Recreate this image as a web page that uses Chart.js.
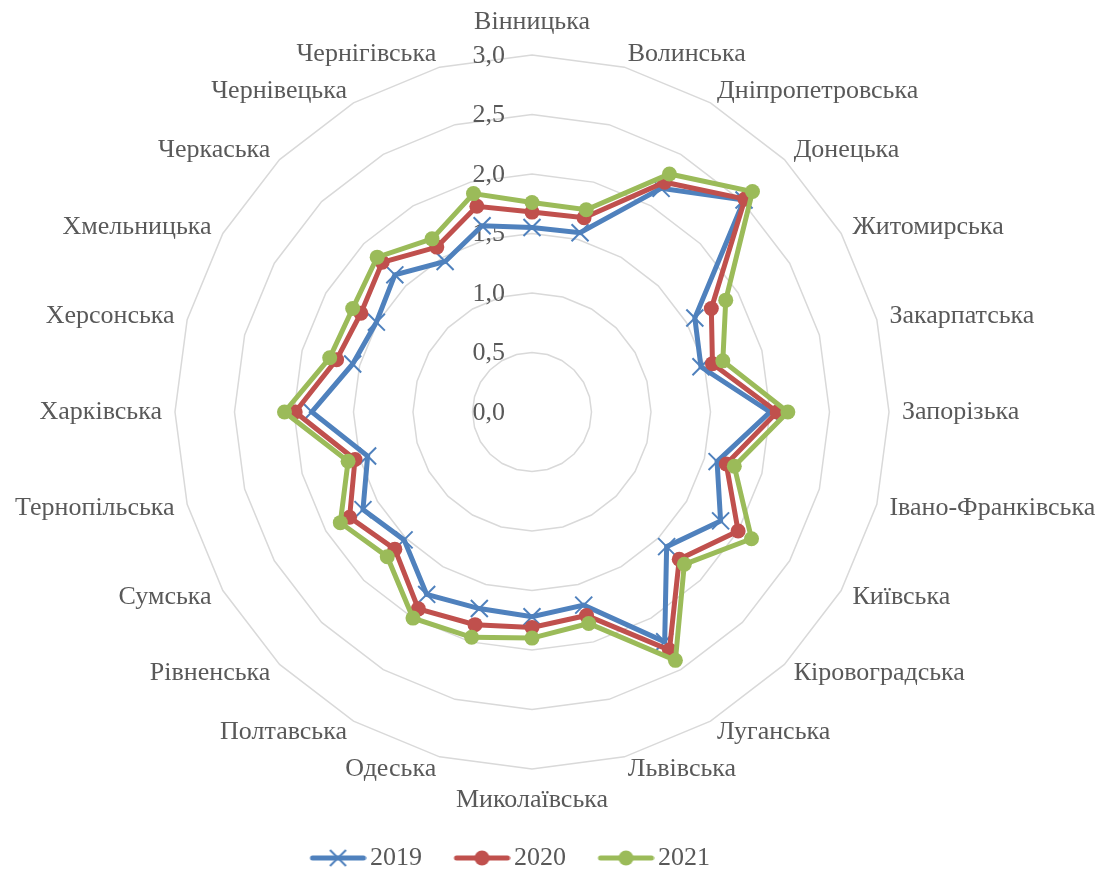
<!DOCTYPE html>
<html>
<head>
<meta charset="utf-8">
<script src="https://cdn.jsdelivr.net/npm/chart.js@4"></script>
<style>
  html, body { margin: 0; padding: 0; background: #fff; }
  #wrap { width: 1109px; height: 870px; }
</style>
</head>
<body>
<div id="wrap"><canvas id="graficoRadar"></canvas></div>
<script>
const oblasti = ['Вінницька', 'Волинська', 'Дніпропетровська', 'Донецька', 'Житомирська', 'Закарпатська',
  'Запорізька', 'Івано-Франківська', 'Київська', 'Кіровоградська', 'Луганська', 'Львівська',
  'Миколаївська', 'Одеська', 'Полтавська', 'Рівненська', 'Сумська', 'Тернопільська',
  'Харківська', 'Херсонська', 'Хмельницька', 'Черкаська', 'Чернівецька', 'Чернігівська'];

const dani2019 = [1.55, 1.56, 2.17, 2.52, 1.58, 1.47, 2.00, 1.61, 1.83, 1.60, 2.23, 1.68,
  1.72, 1.71, 1.77, 1.52, 1.64, 1.43, 1.85, 1.56, 1.51, 1.63, 1.46, 1.62];
const dani2020 = [1.68, 1.69, 2.23, 2.53, 1.74, 1.57, 2.06, 1.69, 2.00, 1.75, 2.31, 1.77,
  1.81, 1.85, 1.91, 1.63, 1.77, 1.54, 1.99, 1.70, 1.66, 1.78, 1.60, 1.79];
const dani2021 = [1.76, 1.76, 2.31, 2.62, 1.88, 1.66, 2.15, 1.76, 2.13, 1.81, 2.41, 1.84,
  1.90, 1.96, 2.00, 1.72, 1.86, 1.60, 2.08, 1.76, 1.74, 1.84, 1.68, 1.90];

const roky = ['2019', '2020', '2021'];
const kolory = ['#4f81bd', '#c0504d', '#9bbb59'];
const shkala = { min: 0, max: 3, krok: 0.5 };

const shrift = "'Liberation Serif', 'Times New Roman', serif";
const siryi = '#595959';
const rozmir = 26;

function formatChisla(v) {
  return v.toFixed(1).replace('.', ',');
}

// legend icon: line with marker
function ikonka(kolir, khrestyk) {
  const c = document.createElement('canvas');
  c.width = 68; c.height = 22;
  const g = c.getContext('2d');
  g.strokeStyle = kolir;
  g.lineWidth = 5;
  g.lineCap = 'round';
  g.beginPath(); g.moveTo(14, 11); g.lineTo(65, 11); g.stroke();
  const mx = 39.5;
  if (khrestyk) {
    g.lineWidth = 2;
    g.lineCap = 'butt';
    g.beginPath();
    g.moveTo(mx - 8, 3); g.lineTo(mx + 8, 19);
    g.moveTo(mx + 8, 3); g.lineTo(mx - 8, 19);
    g.stroke();
  } else {
    g.fillStyle = kolir;
    g.beginPath(); g.arc(mx, 11, 7.5, 0, Math.PI * 2); g.fill();
  }
  return c;
}

// tick labels left of the axis and category names around the web
const pidpysy = {
  id: 'pidpysy',
  afterLayout(chart) {
    chart.legend.left -= 23;
    chart.legend.right -= 23;
  },
  beforeDatasetsDraw(chart) {
    const r = chart.scales.r;
    const ctx = chart.ctx;
    ctx.save();
    ctx.font = rozmir + 'px ' + shrift;
    ctx.fillStyle = siryi;
    ctx.textBaseline = 'middle';

    ctx.textAlign = 'right';
    r.ticks.forEach(t => {
      const d = r.getDistanceFromCenterForValue(t.value);
      ctx.fillText(formatChisla(t.value), r.xCenter - 27, r.yCenter - d + 1);
    });

    oblasti.forEach((nazva, i) => {
      const kut = Math.round(i * 360 / oblasti.length);
      let vidstup = 13;
      if (kut === 0) vidstup = 33;
      if (kut === 180) vidstup = 31;
      const p = r.getPointPosition(i, r.drawingArea + vidstup);
      ctx.textAlign = (kut === 0 || kut === 180) ? 'center' : (kut < 180 ? 'left' : 'right');
      ctx.fillText(nazva, p.x, p.y);
    });
    ctx.restore();
  }
};

const ctx = document.getElementById('graficoRadar').getContext('2d');

new Chart(ctx, {
  type: 'radar',
  data: {
    labels: oblasti,
    datasets: [
      {
        label: roky[0], data: dani2019, borderColor: kolory[0], backgroundColor: kolory[0],
        borderWidth: 5, pointStyle: 'crossRot', pointRadius: 12, pointBorderWidth: 2,
        pointBorderColor: kolory[0], fill: false, order: 3
      },
      {
        label: roky[1], data: dani2020, borderColor: kolory[1], backgroundColor: kolory[1],
        borderWidth: 5, pointStyle: 'circle', pointRadius: 7.5, pointBorderWidth: 0,
        pointBackgroundColor: kolory[1], fill: false, order: 2
      },
      {
        label: roky[2], data: dani2021, borderColor: kolory[2], backgroundColor: kolory[2],
        borderWidth: 5, pointStyle: 'circle', pointRadius: 7.5, pointBorderWidth: 0,
        pointBackgroundColor: kolory[2], fill: false, order: 1
      }
    ]
  },
  options: {
    responsive: true,
    maintainAspectRatio: false,
    animation: false,
    layout: { padding: { top: 9, bottom: -11, left: 175, right: 220 } },
    elements: { line: { tension: 0 } },
    scales: {
      r: {
        min: shkala.min,
        max: shkala.max,
        ticks: { stepSize: shkala.krok, display: false },
        grid: { color: '#d9d9d9', lineWidth: 1.5, circular: false },
        angleLines: { display: false },
        pointLabels: { display: false }
      }
    },
    plugins: {
      tooltip: { enabled: false },
      legend: {
        position: 'bottom',
        labels: {
          color: siryi,
          font: { family: shrift, size: rozmir },
          usePointStyle: true,
          pointStyleWidth: 49,
          padding: 30,
          generateLabels(chart) {
            return chart.data.datasets.map((ds, i) => ({
              text: ds.label,
              fillStyle: ds.borderColor,
              strokeStyle: ds.borderColor,
              fontColor: siryi,
              lineWidth: 0,
              pointStyle: ikonka(ds.borderColor, i === 0),
              hidden: false,
              datasetIndex: i
            }));
          }
        }
      }
    }
  },
  plugins: [pidpysy]
});
</script>
</body>
</html>
